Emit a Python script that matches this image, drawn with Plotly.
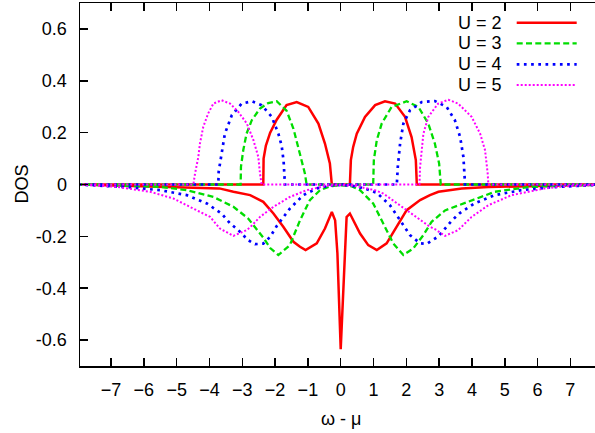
import plotly.graph_objects as go

# ---------------- data ----------------
series_labels = ["U = 2", "U = 3", "U = 4", "U = 5"]
series_colors = ["#ff0000", "#00dd00", "#0000ff", "#ff00ff"]

# U = 2
u2_pos_x = [-8, -2.36, -2.35, -2.28, -2.15, -1.95, -1.65, -1.34, -0.99, -0.68, -0.48, -0.33, -0.27,
            0.28, 0.31, 0.38, 0.49, 0.74, 1.05, 1.35, 1.66, 1.96, 2.16, 2.29, 2.32, 8]
u2_pos_y = [0, 0, 0.10, 0.15, 0.20, 0.25, 0.306, 0.318, 0.299, 0.235, 0.158, 0.081, 0,
            0, 0.094, 0.145, 0.196, 0.261, 0.306, 0.321, 0.312, 0.261, 0.183, 0.094, 0, 0]
u2_neg_x = [-8, -4.6, -3.7, -3.27, -2.76, -2.36, -2.05, -1.75, -1.44, -1.24, -1.07, -0.73, -0.48,
            -0.27, -0.17, -0.10, 0.0, 0.13, 0.18, 0.28, 0.59, 0.84, 1.10, 1.40, 1.71, 2.01, 2.42,
            2.72, 2.98, 3.69, 4.5, 8]
u2_neg_y = [0, -0.01, -0.015, -0.028, -0.041, -0.067, -0.112, -0.163, -0.221, -0.24, -0.253, -0.227,
            -0.170, -0.106, -0.138, -0.266, -0.635, -0.266, -0.125, -0.112, -0.189, -0.234, -0.253,
            -0.227, -0.163, -0.099, -0.060, -0.041, -0.028, -0.015, -0.01, 0]

# U = 3
u3_pos_x = [-8, -3.05, -3.04, -2.97, -2.87, -2.71, -2.46, -2.21, -1.95, -1.65, -1.44, -1.24, -1.09, -1.04,
            0.99, 1.01, 1.10, 1.25, 1.55, 2.01, 2.37, 2.67, 2.87, 3.00, 3.05, 8]
u3_pos_y = [0, 0, 0.068, 0.132, 0.196, 0.248, 0.293, 0.314, 0.321, 0.285, 0.215, 0.119, 0.042, 0,
            0, 0.094, 0.171, 0.235, 0.299, 0.321, 0.299, 0.235, 0.158, 0.081, 0, 0]
u3_neg_x = [-8, -5.5, -4.69, -3.88, -3.27, -2.82, -2.66, -2.36, -2.15, -1.90, -1.55, -1.24, -0.94,
            -0.63, -0.33, 0, 0.33, 0.59, 0.99, 1.30, 1.60, 1.91, 2.21, 2.52, 2.77, 3.18, 3.89,
            4.70, 5.72, 8]
u3_neg_y = [0, -0.009, -0.022, -0.048, -0.086, -0.131, -0.157, -0.205, -0.245, -0.272, -0.234, -0.138,
            -0.060, -0.022, -0.007, -0.003, -0.007, -0.022, -0.073, -0.150, -0.227, -0.272, -0.247,
            -0.195, -0.144, -0.100, -0.067, -0.028, -0.01, 0]

# U = 4
u4_pos_x = [-8, -3.73, -3.72, -3.63, -3.53, -3.32, -3.02, -2.71, -2.41, -2.10, -1.90, -1.80, -1.74, -1.70,
            1.71, 1.74, 1.81, 1.91, 2.11, 2.47, 2.87, 3.23, 3.48, 3.64, 3.74, 3.79, 8]
u4_pos_y = [0, 0, 0.049, 0.119, 0.196, 0.267, 0.312, 0.321, 0.306, 0.261, 0.196, 0.15, 0.09, 0,
            0, 0.068, 0.158, 0.235, 0.286, 0.318, 0.322, 0.299, 0.248, 0.183, 0.106, 0, 0]
u4_neg_x = [-8, -6.52, -5.5, -4.69, -4.08, -3.63, -3.37, -3.12, -2.82, -2.61, -2.36, -2.15, -1.95,
            -1.70, -1.55, -1.14, -0.73, -0.3, 0, 0.3, 0.73, 1.10, 1.50, 1.81, 2.11, 2.42, 2.62,
            2.98, 3.38, 3.63, 4.08, 4.69, 5.5, 6.52, 8]
u4_neg_y = [0, -0.01, -0.022, -0.041, -0.073, -0.112, -0.150, -0.176, -0.215, -0.230, -0.228, -0.202,
            -0.160, -0.120, -0.093, -0.041, -0.015, -0.004, -0.002, -0.004, -0.015, -0.032, -0.080,
            -0.138, -0.195, -0.227, -0.229, -0.200, -0.140, -0.110, -0.073, -0.041, -0.022, -0.01, 0]

# U = 5
u5_pos_x = [-8, -4.49, -4.44, -4.34, -4.29, -4.19, -4.04, -3.88, -3.63, -3.37, -3.12, -2.86, -2.66,
            -2.51, -2.46, -2.41, 2.40, 2.42, 2.52, 2.67, 2.97, 3.28, 3.58, 3.99, 4.25, 4.40, 4.48,
            4.50, 8]
u5_pos_y = [0, 0, 0.042, 0.106, 0.158, 0.222, 0.274, 0.312, 0.325, 0.312, 0.280, 0.235, 0.171,
            0.106, 0.042, 0, 0, 0.068, 0.196, 0.261, 0.312, 0.327, 0.312, 0.261, 0.196, 0.132, 0.042,
            0, 0]
u5_neg_x = [-8, -6.83, -5.81, -5.10, -4.49, -3.98, -3.68, -3.27, -2.87, -2.76, -2.46, -2.05, -1.55,
            -1.04, -0.43, 0, 0.43, 1.04, 1.30, 1.81, 2.32, 2.72, 2.87, 3.18, 3.58, 3.99, 4.5, 5.21,
            6.23, 6.73, 8]
u5_neg_y = [0, -0.009, -0.028, -0.054, -0.093, -0.125, -0.170, -0.198, -0.176, -0.165, -0.125, -0.086,
            -0.048, -0.022, -0.005, -0.003, -0.005, -0.022, -0.035, -0.080, -0.125, -0.163, -0.172,
            -0.198, -0.176, -0.125, -0.080, -0.041, -0.015, -0.008, 0]

x_tick_vals = [-7, -6, -5, -4, -3, -2, -1, 0, 1, 2, 3, 4, 5, 6, 7]
y_tick_vals = [-0.6, -0.4, -0.2, 0, 0.2, 0.4, 0.6]
y_tick_text = ["-0.6", "-0.4", "-0.2", "0", "0.2", "0.4", "0.6"]

x_label = "ω - μ"
y_label = "DOS"

# ---------------- figure ----------------
FONT = "Liberation Sans, Arial, Helvetica, sans-serif"
FS = 18
W, H = 603, 433          # right frame edge sits just outside the 595 px window, as in the reference
ML, MR, MT, MB = 80, 0, 3, 67

styles = [
    dict(width=2.5, dash="solid"),
    dict(width=2.3, dash="6px,3.3px"),
    dict(width=2.7, dash="2.7px,4.5px"),
    dict(width=2.0, dash="2px,2px"),
]

series = [
    (u2_pos_x, u2_pos_y, u2_neg_x, u2_neg_y),
    (u3_pos_x, u3_pos_y, u3_neg_x, u3_neg_y),
    (u4_pos_x, u4_pos_y, u4_neg_x, u4_neg_y),
    (u5_pos_x, u5_pos_y, u5_neg_x, u5_neg_y),
]

fig = go.Figure()
for (px, py, nx, ny), col, st, lab in zip(series, series_colors, styles, series_labels):
    line = dict(color=col, width=st["width"], dash=st["dash"])
    fig.add_trace(go.Scatter(x=px, y=py, mode="lines", line=line, name=lab, showlegend=False,
                             hoverinfo="skip"))
    fig.add_trace(go.Scatter(x=nx, y=ny, mode="lines", line=line, name=lab, showlegend=False,
                             hoverinfo="skip"))

plot_w = W - ML - MR
plot_h = H - MT - MB
X0_PX, PX_PER_UNIT = 340.7, 32.81
x0 = (ML - X0_PX) / PX_PER_UNIT
x1 = x0 + plot_w / PX_PER_UNIT

axis_common = dict(
    showgrid=False, zeroline=False, showline=True, linecolor="black", linewidth=1.5,
    ticks="inside", ticklen=8, tickwidth=1.5, tickcolor="black", automargin=False,
    tickfont=dict(family=FONT, size=FS, color="black"), mirror="allticks",
)

fig.update_xaxes(range=[x0, x1], tickvals=x_tick_vals, ticklabelstandoff=7, **axis_common)
fig.update_yaxes(range=[-0.7, 0.7], tickvals=y_tick_vals, ticktext=y_tick_text,
                 ticklabelstandoff=8, **axis_common)

# axis titles as paper annotations
fig.add_annotation(x=(X0_PX - ML) / plot_w, y=(H - MB - 419) / plot_h, xref="paper", yref="paper",
                   text=x_label, showarrow=False, xanchor="center", yanchor="middle",
                   font=dict(family=FONT, size=FS, color="black"))
fig.add_annotation(x=(21.5 - ML) / plot_w, y=(H - MB - 184) / plot_h, xref="paper", yref="paper",
                   text=y_label, showarrow=False, xanchor="center", yanchor="middle", textangle=-90,
                   font=dict(family=FONT, size=FS, color="black"))

# gnuplot-style key: text right-aligned, line sample on the right
key_rows_px = [22.7, 43.3, 64.3, 85.0]
text_right_px = 504
sample_x_px = (516.7, 576.7)
for lab, col, st, ypx in zip(series_labels, series_colors, styles, key_rows_px):
    yp = (H - MB - ypx) / plot_h
    fig.add_annotation(
        x=(text_right_px - ML) / plot_w, y=yp, xref="paper", yref="paper",
        text=lab, showarrow=False, xanchor="right", yanchor="middle",
        font=dict(family=FONT, size=FS, color="black"),
    )
    fig.add_shape(
        type="line", xref="paper", yref="paper",
        x0=(sample_x_px[0] - ML) / plot_w, x1=(sample_x_px[1] - ML) / plot_w, y0=yp, y1=yp,
        line=dict(color=col, width=st["width"], dash=st["dash"]),
    )

fig.update_layout(
    width=W, height=H,
    margin=dict(l=ML, r=MR, t=MT, b=MB, pad=0),
    paper_bgcolor="white", plot_bgcolor="white",
    showlegend=False, hovermode=False,
    font=dict(family=FONT, color="black"),
)

fig.write_html(
    "out.html",
    config={"displayModeBar": False, "staticPlot": True},
    post_script=(
        "document.documentElement.style.margin='0';document.documentElement.style.overflow='hidden';"
        "document.body.style.margin='0';document.body.style.padding='0';document.body.style.overflow='hidden';"
    ),
)
